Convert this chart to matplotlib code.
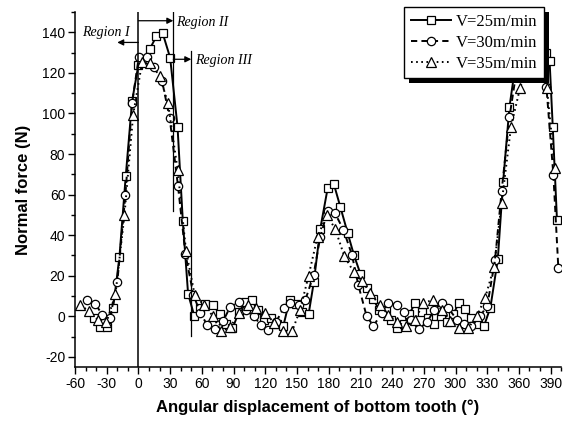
import matplotlib
matplotlib.use("Agg")
import matplotlib.pyplot as plt
from matplotlib.patches import Rectangle
from matplotlib.ticker import MultipleLocator
from matplotlib.transforms import IdentityTransform

# V = 25 m/min (squares, solid)
v25_angle = [-42, -36, -30, -24, -18, -12, -6, 0, 6, 11, 17, 23, 30, 37, 42, 47, 53, 58,
             63, 71, 77, 83, 89, 95, 101, 107, 113, 119, 125, 131, 137, 143, 149, 155,
             161, 166, 172, 179, 185, 191, 198, 204, 210, 216, 222, 228, 234, 239, 245,
             251, 256, 262, 268, 274, 280, 286, 292, 298, 303, 309, 315, 321, 327, 333,
             340, 345, 351, 357, 363, 369, 375, 381, 386, 389, 392, 396]
v25_force = [-1, -5.5, -5.5, 4, 29, 69, 106, 124, 127, 132, 138, 139.5, 127.5, 93.5, 47,
             11, 0, 4, 6, 5.5, 1, -4, -6, 2, 7, 8, 3, -2, -1, -4, -5, 8, 6, 2,
             1, 17, 43, 63, 65, 54, 41, 30, 21, 14, 8.5, 3, 3, -2, -6,
             -4, 1, 6.5, 2, -1, -4, 0, -3, 1, 6.5, 3.5, -1, -4, -4.7, 4.3,
             28, 66, 103, 125, 135, 139, 140, 138, 130, 126, 93.5, 47.5]

# V = 30 m/min (circles, dashed)
v30_angle = [-48.5, -41, -34, -27, -20, -12.3, -6, 0.3, 8, 15, 22.4, 29.6, 37.5, 44.5,
             52, 58.6, 65, 72.8, 80, 87, 94.8, 102, 109, 116, 123, 130, 137.3, 143.7,
             151.5, 158, 165.7, 172, 179, 186, 194, 202, 208, 216, 222.4, 230.3, 236.6,
             244.5, 250.8, 258, 265, 272.9, 280, 287, 293.3, 301.2, 308, 315, 323, 330,
             337.4, 343.7, 351, 358, 365, 372, 379, 386, 392.6, 397.3]
v30_force = [7.8, 6.2, 0.7, -1, 16.7, 60, 105, 127.6, 128, 123, 116, 97.6, 64, 30.6,
             10.6, 1.6, -4.2, -6.3, -2.5, 4.8, 6.8, 3, -0.1, -4.2, -6.7, -3, 4, 6.5,
             5.7, 8.1, 20.4, 39, 52, 50.8, 42.6, 30.3, 15.5, -0.1, -4.7, 1.6, 6.5,
             5.7, 1.9, -2, -6.3, -3, 3.2, 6.5, 4, -1.7, -4, -5, 0, 5,
             27.8, 62, 98, 122, 133, 137, 135, 113, 69.7, 23.7]

# V = 35 m/min (triangles, dotted)
v35_angle = [-54.8, -47, -38.5, -30.2, -21.7, -13.2, -5, 3.5, 11.3, 20.1, 28, 37.1, 45,
             53.2, 61.7, 70.6, 78.1, 87, 94.8, 103.7, 111.5, 120, 128.5, 136.8, 145.3,
             153, 161, 169.5, 178.3, 186.2, 194.7, 203.5, 211.4, 219.3, 228.1, 236.6,
             245.1, 253.3, 261.8, 269.7, 278.5, 287, 295, 303.5, 312, 320, 328, 336.5,
             343.7, 352.5, 361, 369.5, 378, 386.5, 394]
v35_force = [5.7, 2.4, -1.7, -3, 10.9, 50, 99.3, 125.2, 124.7, 118.5, 105, 72.2, 32.4,
             10.6, 5.7, 0, -7.5, -5.3, 1.6, 5.7, 4, 1.6, -3.2, -7.5, -7.5,
             3.2, 20, 39.3, 50, 43, 29.8, 22, 17.6, 11.4, 5.7, 0.7,
             -3, -5, -1.7, 6.5, 8.1, 3.2, -2.5, -5.8, -5.8, -0.1, 9, 24.5,
             56, 93.5, 112.4, 125, 128, 112.4, 73]

SANS = "Liberation Sans"
SERIF = "Liberation Serif"
plt.rcParams["lines.scale_dashes"] = False
plt.rcParams["axes.unicode_minus"] = False

fig = plt.figure(figsize=(5.69, 4.23), dpi=100)
ax = fig.add_axes([0.1318, 0.1324, 0.8545, 0.8392])

common = dict(color="k", lw=1.4, mfc="white", mec="k", mew=0.9)
ax.plot(v25_angle, v25_force, ls="-", marker="s", ms=5.3, label="V=25m/min", **common)
ax.plot(v30_angle, v30_force, ls=(0, (4.5, 3)), marker="o", ms=6, label="V=30m/min", **common)
ax.plot(v35_angle, v35_force, ls=(0, (1.2, 2.5)), marker="^", ms=6.5, label="V=35m/min", **common)

# region boundaries
ax.plot([0, 0], [-25, 150], color="k", lw=1.1, zorder=3)
ax.plot([33, 33], [52, 150], color="k", lw=0.9, zorder=3)
ax.plot([50, 50], [-9.5, 131], color="k", lw=0.9, zorder=3)

arrow = dict(arrowstyle="-|>", color="k", lw=0.9, mutation_scale=9, shrinkA=0, shrinkB=0)
ax.annotate("", xy=(-20, 135), xytext=(0, 135), arrowprops=arrow)
ax.annotate("", xy=(33, 145.7), xytext=(0, 145.7), arrowprops=arrow)
ax.annotate("", xy=(50, 126.7), xytext=(33, 126.7), arrowprops=arrow)

rfont = dict(family=SERIF, style="italic", fontsize=10, va="center", ha="left")
ax.text(-53, 140, "Region I", **rfont)
ax.text(36, 145, "Region II", **rfont)
ax.text(54, 126.3, "Region III", **rfont)

ax.set_xlim(-60, 400)
ax.set_ylim(-25, 150)
ax.xaxis.set_minor_locator(MultipleLocator(10))
ax.yaxis.set_minor_locator(MultipleLocator(10))
ax.set_xticks(range(-60, 391, 30))
ax.set_yticks(range(-20, 141, 20))
ax.tick_params(which="major", direction="out", length=5, width=1, labelsize=10, pad=2)
ax.tick_params(which="minor", direction="out", length=3, width=1)
for lbl in ax.get_xticklabels() + ax.get_yticklabels():
    lbl.set_fontfamily(SANS)

ax.spines["top"].set_visible(False)
ax.spines["right"].set_visible(False)
ax.spines["left"].set_linewidth(1.1)
ax.spines["bottom"].set_linewidth(1.1)

ax.set_xlabel("Angular displacement of bottom tooth (°)", family=SANS,
              fontweight="bold", fontsize=12, labelpad=6)
ax.set_ylabel("Normal force (N)", family=SANS, fontweight="bold", fontsize=12, labelpad=8)

leg = ax.legend(loc="upper right", bbox_to_anchor=(544 / 569, 1 - 7 / 423),
                bbox_transform=fig.transFigure, borderaxespad=0, fancybox=False,
                framealpha=1, edgecolor="k", prop=dict(family=SERIF, size=12),
                handlelength=2.4, handletextpad=0.3, labelspacing=0.3, borderpad=0.4)
leg.get_frame().set_linewidth(1)
leg.set_zorder(6)

# solid drop shadow behind the legend box
fig.canvas.draw()
bb = leg.get_window_extent()
ax.add_patch(Rectangle((bb.x0 + 5, bb.y0 - 5), bb.width, bb.height,
                       transform=IdentityTransform(), facecolor="k", edgecolor="none",
                       zorder=5.5, clip_on=False))

fig.savefig("out.png", dpi=100)
